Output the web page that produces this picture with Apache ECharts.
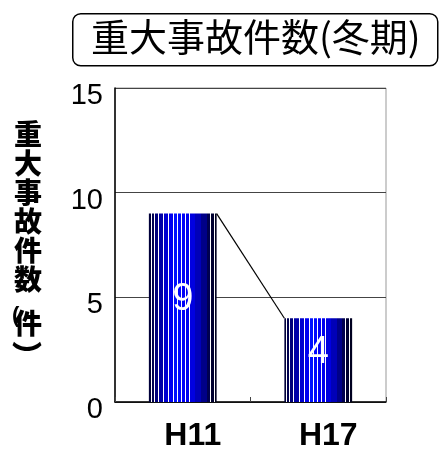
<!DOCTYPE html>
<html>
<head>
<meta charset="utf-8">
<script src="https://cdn.jsdelivr.net/npm/echarts@6/dist/echarts.min.js"></script>
<style>html,body{margin:0;padding:0;background:#fff;}#c{width:439px;height:453px;}</style>
</head>
<body>
<div id="c"></div>
<script>
var titleText = '重大事故件数(冬期)';
var categories = ['H11', 'H17'];
var values = [9, 4];
var yTicks = [0, 5, 10, 15];

// striped fill (style only)
var segs = [
  [0, 2, '#00003a'], [2, 3, '#ffffff'], [3, 5, '#000050'], [5, 6, '#ffffff'],
  [6, 9, '#00007a'], [9, 10, '#ffffff'], [10, 14, '#0000a8'], [14, 15, '#ffffff'],
  [15, 19, '#0000d0'], [19, 20, '#ffffff'], [20, 24, '#0000f0'], [24, 25, '#ffffff'],
  [25, 28, '#0010ff'], [28, 29, '#ffffff'], [29, 32, '#0008ff'], [32, 33, '#ffffff'],
  [33, 36, '#0000f8'], [36, 37, '#ffffff'], [37, 40, '#0000f0'], [40, 41, '#ffffff'],
  [41, 46, '#0000e0'], [46, 52, '#0000b8'], [52, 57, '#000088'], [57, 60, '#000050'],
  [60, 61, '#ffffff'], [61, 64, '#000030'], [64, 65, '#ffffff'], [65, 67, '#000020']
];
var stops = [];
segs.forEach(function (s) {
  stops.push({offset: s[0] / 67, color: s[2]});
  stops.push({offset: s[1] / 67, color: s[2]});
});
var fill = new echarts.graphic.LinearGradient(0, 0, 1, 0, stops);

var chart = echarts.init(document.getElementById('c'));
chart.setOption({
  animation: false,
  grid: {left: 115, right: 53, top: 88, bottom: 51, show: true, borderColor: '#999', borderWidth: 1},
  xAxis: {
    type: 'category', data: categories,
    axisLine: {lineStyle: {color: '#000', width: 1.5}},
    axisTick: {show: true, alignWithLabel: false, length: 5, inside: true, lineStyle: {color: '#444'}},
    axisLabel: {color: '#000', fontFamily: 'Liberation Sans', fontWeight: 'bold', fontSize: 32, margin: 18, padding: [0, 0, 0, 20]}
  },
  yAxis: {
    type: 'value', min: 0, max: 15, interval: 5,
    axisLine: {show: true, lineStyle: {color: '#000', width: 1.5}},
    axisTick: {show: false},
    splitLine: {lineStyle: {color: '#444', width: 1}},
    axisLabel: {color: '#000', fontFamily: 'Liberation Sans', fontSize: 29, margin: 12, verticalAlign: 'top', lineHeight: 16,
      formatter: function (v) { return yTicks.indexOf(v) >= 0 ? String(v) : ''; }}
  },
  series: [
    {
      type: 'bar', data: values, barWidth: '50%',
      itemStyle: {color: fill},
      label: {show: true, position: 'inside', offset: [0, -8], color: '#fff', fontFamily: 'Liberation Sans', fontSize: 38}
    },
    {
      type: 'custom', data: [[0, values[0], 1, values[1]]],
      renderItem: function (params, api) {
        var w = api.size([1, 0])[0] * 0.5;
        var p1 = api.coord([api.value(0), api.value(1)]);
        var p2 = api.coord([api.value(2), api.value(3)]);
        return {type: 'line', shape: {x1: p1[0] + w / 2, y1: p1[1], x2: p2[0] - w / 2, y2: p2[1]},
          style: {stroke: '#000', lineWidth: 1.2}};
      },
      z: 5
    }
  ],
  graphic: [
    {type: 'rect', left: 72, top: 13, shape: {width: 365, height: 52, r: 8}, style: {fill: '#fff', stroke: '#000', lineWidth: 1.5}},
    {type: 'text', left: 91, top: 18, style: {text: titleText, fontFamily: 'Noto Sans CJK JP', fontSize: 38, fill: '#000'}},
    {type: 'text', x: 28, y: 120, style: {text: '重\n大\n事\n故\n件\n数', align: 'center', fontFamily: 'Noto Sans CJK JP', fontWeight: 900, fontSize: 28, lineHeight: 29, fill: '#000'}},
    {type: 'text', x: 28, y: 309, style: {text: '件', align: 'center', fontFamily: 'Noto Sans CJK JP', fontWeight: 900, fontSize: 28, fill: '#000'}},
    {type: 'text', x: 12, y: 305, style: {text: '(', fontFamily: 'Liberation Sans', fontWeight: 'bold', fontSize: 22, fill: '#000'}},
    {type: 'text', x: 27, y: 341, style: {text: '︶', align: 'center', fontFamily: 'Noto Sans CJK JP', fontWeight: 900, fontSize: 30, fill: '#000'}}
  ]
});
</script>
</body>
</html>
